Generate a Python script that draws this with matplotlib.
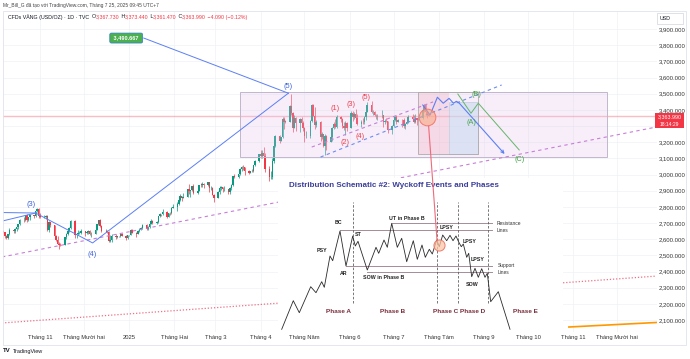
import matplotlib
matplotlib.use('Agg')
import matplotlib.pyplot as plt
import matplotlib.dates as mdates
from matplotlib.patches import Rectangle, ConnectionPatch
import numpy as np
import pandas as pd

plt.rcParams['font.family'] = ['Liberation Sans', 'DejaVu Sans']

# ---------------- DATA ----------------
first_open = 2653
closes = [
    2644, 2622, 2608, 2630, 2657, 2649, 2662, 2674, 2693, 2721, 2720, 2748, 2716, 2736, 2747, 2743, 2774, 2788, 2743,
    2736, 2736, 2742, 2659, 2706, 2685, 2618, 2598, 2572, 2565, 2563, 2611, 2631, 2650, 2670, 2715, 2625, 2633, 2638, 2640, 2650,
    2640, 2643, 2650, 2632, 2633, 2660, 2694, 2718, 2680, 2648, 2652, 2646, 2586, 2595, 2622, 2612, 2617, 2618, 2633, 2621, 2606, 2624,
    2625, 2658, 2640, 2635, 2648, 2662, 2670, 2690, 2663, 2677, 2696, 2715, 2703, 2708, 2745, 2755, 2754, 2770, 2740, 2763, 2760, 2794, 2798,
    2815, 2842, 2867, 2856, 2861, 2908, 2898, 2904, 2929, 2883, 2899, 2935, 2933, 2939, 2936, 2951, 2915, 2916, 2876, 2857,
    2893, 2918, 2920, 2910, 2910, 2889, 2916, 2934, 2988, 2984, 3001, 3035, 3048, 3044, 3023, 3010, 3020, 3019, 3057, 3085, 3124,
    3113, 3134, 3114, 3037, 2982, 2982, 3083, 3175, 3237, 3210, 3230, 3343, 3327, 3327, 3424, 3380, 3288, 3349, 3319, 3343, 3317, 3288,
    3239, 3241, 3334, 3431, 3365, 3306, 3326, 3235, 3248, 3178, 3240, 3204, 3230, 3290, 3314, 3295, 3358, 3342, 3301, 3288, 3317, 3289,
    3381, 3353, 3373, 3352, 3310, 3325, 3322, 3355, 3386, 3432, 3385, 3388, 3370, 3368, 3368, 3368, 3323, 3332, 3328, 3273, 3303,
    3338, 3357, 3326, 3337, 3336, 3302, 3313, 3325, 3355, 3344, 3325, 3347, 3339, 3350, 3397, 3432, 3387, 3367.73, 3363.99,
]
highs = [
    2660, 2645, 2627, 2635, 2669, 2660, 2667, 2676, 2697, 2722, 2740, 2749, 2758, 2739, 2750, 2749, 2775, 2790, 2790,
    2762, 2750, 2750, 2748, 2710, 2709, 2686, 2629, 2618, 2584, 2575, 2616, 2639, 2656, 2673, 2721, 2721, 2635, 2656, 2652, 2665,
    2652, 2650, 2657, 2655, 2645, 2668, 2696, 2721, 2726, 2685, 2664, 2654, 2650, 2625, 2632, 2630, 2620, 2620, 2638, 2640, 2626, 2626,
    2628, 2662, 2665, 2645, 2660, 2670, 2677, 2696, 2692, 2679, 2698, 2725, 2718, 2711, 2746, 2763, 2758, 2786, 2772, 2765, 2770, 2799, 2817,
    2830, 2845, 2882, 2869, 2886, 2911, 2942, 2907, 2932, 2942, 2905, 2937, 2947, 2954, 2950, 2956, 2953, 2928, 2923, 2880,
    2896, 2928, 2930, 2925, 2930, 2912, 2920, 2940, 2990, 3005, 3003, 3038, 3050, 3057, 3046, 3030, 3024, 3033, 3060, 3087, 3128,
    3149, 3149, 3168, 3136, 3055, 3023, 3100, 3176, 3245, 3246, 3230, 3358, 3357, 3335, 3430, 3500, 3386, 3367, 3353, 3351, 3353, 3328,
    3293, 3269, 3336, 3436, 3437, 3415, 3340, 3330, 3265, 3252, 3252, 3243, 3250, 3296, 3325, 3345, 3366, 3365, 3350, 3325, 3330, 3324,
    3392, 3392, 3385, 3403, 3375, 3337, 3348, 3360, 3397, 3446, 3452, 3400, 3394, 3376, 3374, 3398, 3368, 3342, 3350, 3330, 3308,
    3358, 3365, 3366, 3345, 3342, 3348, 3317, 3330, 3369, 3375, 3366, 3377, 3352, 3361, 3402, 3434, 3439, 3393, 3373.44,
]
lows = [
    2636, 2605, 2603, 2604, 2626, 2637, 2637, 2651, 2666, 2690, 2704, 2713, 2708, 2715, 2721, 2730, 2735, 2770, 2730,
    2733, 2732, 2724, 2652, 2643, 2678, 2610, 2589, 2569, 2537, 2555, 2562, 2604, 2626, 2643, 2662, 2606, 2605, 2623, 2633, 2635,
    2622, 2630, 2634, 2625, 2614, 2630, 2656, 2686, 2677, 2644, 2643, 2638, 2583, 2583, 2584, 2603, 2610, 2614, 2613, 2617, 2597, 2603,
    2620, 2623, 2636, 2614, 2631, 2643, 2656, 2666, 2656, 2660, 2671, 2692, 2697, 2697, 2703, 2740, 2742, 2752, 2731, 2738, 2751, 2754, 2790,
    2773, 2809, 2838, 2834, 2853, 2858, 2880, 2864, 2900, 2878, 2880, 2897, 2921, 2925, 2918, 2930, 2890, 2903, 2874, 2832,
    2855, 2880, 2905, 2893, 2896, 2880, 2881, 2905, 2930, 2976, 2980, 2999, 3022, 3030, 2999, 3001, 3007, 3013, 3015, 3055, 3076,
    3100, 3105, 3054, 3015, 2957, 2970, 2972, 3073, 3168, 3194, 3205, 3228, 3283, 3320, 3325, 3367, 3260, 3287, 3268, 3263, 3301, 3268,
    3202, 3223, 3225, 3323, 3360, 3282, 3297, 3207, 3222, 3171, 3121, 3154, 3200, 3205, 3284, 3287, 3287, 3324, 3285, 3278, 3245, 3271,
    3285, 3333, 3344, 3339, 3307, 3293, 3313, 3315, 3340, 3385, 3382, 3366, 3364, 3341, 3340, 3347, 3295, 3311, 3322, 3255, 3248,
    3297, 3329, 3311, 3323, 3296, 3287, 3282, 3311, 3321, 3340, 3320, 3320, 3309, 3332, 3343, 3384, 3382, 3351, 3361.47,
]
bar_dates = pd.bdate_range('2024-10-07', '2025-07-25')

price_ticks = list(range(2100, 4000, 100))
hidden_price_tick = 3300  # covered by the last-price tag in the reference
month_ticks = ['2024-11-01', '2024-12-01', '2025-01-01', '2025-02-01', '2025-03-01', '2025-04-01', '2025-05-01',
               '2025-06-01', '2025-07-01', '2025-08-01', '2025-09-01', '2025-10-01', '2025-11-01', '2025-12-01']
month_labels = ['Tháng 11', 'Tháng Mười hai', '2025', 'Tháng Hai', 'Tháng 3', 'Tháng 4', 'Tháng Năm',
                'Tháng 6', 'Tháng 7', 'Tháng Tám', 'Tháng 9', 'Tháng 10', 'Tháng 11', 'Tháng Mười hai']

last_price = 3363.99

# Elliott wave (blue)
wave_in_a_dates, wave_in_a_prices = ['2024-10-06', '2024-10-29'], [2765, 2762]
wave_in_b_dates, wave_in_b_prices = ['2024-10-06', '2024-10-29'], [2712, 2762]
wave_dates = ['2024-10-29', '2024-12-07', '2025-04-20']
wave_prices = [2762, 2577, 3503]
wave_labels = ['(3)', '(4)', '(5)']
wave_label_dates = ['2024-10-26', '2024-12-07', '2025-04-20']
wave_label_prices = [2812, 2508, 3543]

target_label = '3,490.667'
target_label_date, target_label_price = '2024-12-30', 3844
target_line_dates, target_line_prices = ['2025-01-11', '2025-04-20'], [3844, 3503]

# sub-waves (red)
sub_labels = ['(1)', '(2)', '(3)', '(4)', '(5)']
sub_label_dates = ['2025-05-22', '2025-05-29', '2025-06-02', '2025-06-08', '2025-06-12']
sub_label_prices = [3411, 3201, 3436, 3238, 3479]

# trend lines
long_dot_dates, long_dot_prices = ['2024-10-06', '2025-12-28'], [2490, 3294]
red_dot_dates, red_dot_prices = ['2024-10-06', '2025-12-28'], [2082, 2372]
orange_dates, orange_prices = ['2025-10-29', '2025-12-28'], [2057, 2085]
chan_up_dates, chan_up_prices = ['2025-05-06', '2025-07-28'], [3170, 3449]
chan_lo_dates, chan_lo_prices = ['2025-05-12', '2025-09-13'], [3108, 3554]

# range boxes
range_box_dates, range_box_prices = ['2025-03-18', '2025-11-24'], [3108, 3510]
zone_dates = ['2025-07-18', '2025-08-08', '2025-08-28']
zone_prices = [3127, 3510, 3449]

# projections
proj_blue_dates = ['2025-07-21', '2025-07-26', '2025-07-31', '2025-08-04', '2025-08-08',
                   '2025-08-11', '2025-08-13', '2025-08-15', '2025-09-15']
proj_blue_prices = [3430, 3368, 3478, 3441, 3471, 3441, 3453, 3441, 3127]
proj_green_dates = ['2025-08-14', '2025-08-23', '2025-08-28', '2025-09-25']
proj_green_prices = [3498, 3379, 3441, 3152]
abc_labels = ['(A)', '(B)', '(C)']
abc_dates = ['2025-08-23', '2025-08-27', '2025-09-25']
abc_prices = [3321, 3492, 3094]

circle_date, circle_price = '2025-07-24', 3358
link_date, link_price = '2025-07-25', 3300

# Wyckoff distribution schematic (inset picture units)
sch_x = [3.7, 15.3, 21.3, 32.7, 38, 43.7, 46.3, 52, 54.7, 62, 68, 74.7, 77.3, 80, 89.3, 98, 100.7, 106, 109.3,
         113.7, 119.3, 123.7, 128.7, 135.3, 139.3, 144, 147.3, 151.3, 154.3, 158.7, 161.3, 164.7, 168.7, 172,
         175, 178, 180.7, 183.3, 185.3, 188.7, 190.7, 193.7, 197, 200.3, 203.7, 207, 209.3, 212.7, 220.3, 232]
sch_y = [3.7, 32.3, 20.3, 46.3, 40.3, 51.3, 45.7, 77, 72.3, 102, 67, 97, 87, 91.7, 63, 85.7, 79.7, 93, 85.7,
         109.7, 85.7, 94.7, 71.3, 92.3, 73.7, 88, 75.7, 83.7, 79, 93, 86.3, 98, 92.3, 97.7,
         92.3, 97, 91, 86.3, 89, 75.7, 79.7, 56.3, 64.7, 55.7, 64.3, 55.7, 59.7, 31.3, 41.3, 3.7]
sch_levels_y = [109.7, 102.7, 67, 61.3]
sch_levels_x0 = [113.7, 62, 68, 88.7]
sch_levels_x1 = [213.7, 213.7, 213.7, 213.7]
sch_phase_x = [75.3, 158.7, 180.3, 210.3]
sch_phase_y = [29.7, 131.3]
sch_events = ['BC', 'PSY', 'ST', 'AR', 'SOW in Phase B', 'UT in Phase B', 'LPSY', 'LPSY', 'LPSY', 'SOW']
sch_events_x = [60.3, 43.7, 80.3, 66, 105.3, 128.7, 168.7, 192, 199.3, 193.7]
sch_events_y = [110.3, 83, 98.7, 59.7, 55.7, 114.7, 105.7, 91.3, 73.7, 48.7]
sch_phases = ['Phase A', 'Phase B', 'Phase C', 'Phase D', 'Phase E']
sch_phases_x = [60.3, 114.7, 168, 194.7, 247]
sch_phases_y = 21.3
sch_circle = (161.3, 88)
sch_link = (159, 93)
sch_title = 'Distribution Schematic #2: Wyckoff Events and Phases'

# ---------------- LAYOUT ----------------
W, H = 690, 359
fig = plt.figure(figsize=(W / 100, H / 100), dpi=100)
fig.patch.set_facecolor('white')


def fx(px):
    return px / W


def fy(py):
    return 1 - py / H


PANE_L, PANE_R, PANE_T, PANE_B = 3, 657, 11, 332
ax = fig.add_axes([fx(PANE_L), fy(PANE_B), (PANE_R - PANE_L) / W, (PANE_B - PANE_T) / H])
X_ORIGIN = mdates.date2num(pd.Timestamp('2024-11-01'))
PX_PER_DAY = 1.461
PX_PER_USD = 0.1617
ax.set_xlim(X_ORIGIN + (PANE_L - 40) / PX_PER_DAY, X_ORIGIN + (PANE_R - 40) / PX_PER_DAY)
ax.set_ylim(3900 - (PANE_B - 29) / PX_PER_USD, 3900 + (29 - PANE_T) / PX_PER_USD)


def dn(s):
    return mdates.date2num(pd.Timestamp(s))


def dns(lst):
    return [dn(s) for s in lst]


# grid / ticks
for s in ax.spines.values():
    s.set_visible(False)
ax.set_yticks(price_ticks)
ax.set_yticklabels(['' if v == hidden_price_tick else f'{v:,.3f}' for v in price_ticks])
ax.yaxis.tick_right()
ax.tick_params(axis='y', length=0, pad=1.0, labelsize=4.3, labelcolor='#333333')
ax.set_xticks(dns(month_ticks))
ax.set_xticklabels(month_labels)
ax.tick_params(axis='x', length=0, pad=2.0, labelsize=4.2, labelcolor='#333333')
ax.grid(True, color='#eff1f5', lw=0.5)
ax.set_axisbelow(True)

# candles
xb = mdates.date2num(bar_dates)
c = np.array(closes, dtype=float)
o = np.array([first_open] + closes[:-1], dtype=float)
hi = np.maximum(np.array(highs, dtype=float), np.maximum(o, c))
lo = np.minimum(np.array(lows, dtype=float), np.minimum(o, c))
up = c >= o
col = np.where(up, '#089981', '#f23645')
ax.vlines(xb, lo, hi, colors=col, lw=0.5, zorder=2)
ax.bar(xb, np.maximum(np.abs(c - o), 1.5), bottom=np.minimum(o, c), width=1.05, color=col, lw=0, zorder=2)

# last price line
ax.axhline(last_price, color='#f7a1aa', lw=1.0, alpha=0.7, zorder=1.5)

# range box
rx0, rx1 = dns(range_box_dates)
ax.add_patch(Rectangle((rx0, range_box_prices[0]), rx1 - rx0, range_box_prices[1] - range_box_prices[0],
                       facecolor='#e4c3ea', alpha=0.28, edgecolor='none', zorder=3))
ax.add_patch(Rectangle((rx0, range_box_prices[0]), rx1 - rx0, range_box_prices[1] - range_box_prices[0],
                       fill=False, edgecolor='#c2b6cc', lw=0.7, zorder=3))
zx = dns(zone_dates)
ax.add_patch(Rectangle((zx[0], zone_prices[0]), zx[1] - zx[0], zone_prices[1] - zone_prices[0],
                       facecolor='#f3b3c3', alpha=0.35, edgecolor='none', zorder=3))
ax.add_patch(Rectangle((zx[1], zone_prices[0]), zx[2] - zx[1], zone_prices[2] - zone_prices[0],
                       facecolor='#c6d9f0', alpha=0.55, edgecolor='#9fb3cc', lw=0.5, zorder=3))
ax.add_patch(Rectangle((zx[0], zone_prices[0]), zx[2] - zx[0], zone_prices[1] - zone_prices[0],
                       fill=False, edgecolor='#ababab', lw=0.6, zorder=3))

# trend lines
ax.plot(dns(long_dot_dates), long_dot_prices, color='#c77fd6', lw=0.8, ls=(0, (3, 3)), zorder=3)
ax.plot(dns(red_dot_dates), red_dot_prices, color='#ef6f86', lw=0.9, ls=(0, (1, 1.5)), zorder=3)
ax.plot(dns(orange_dates), orange_prices, color='#ff9800', lw=1.2, zorder=3)
ax.plot(dns(chan_up_dates), chan_up_prices, color='#c77fd6', lw=0.8, ls=(0, (3, 3)), zorder=4)
ax.plot(dns(chan_lo_dates), chan_lo_prices, color='#6d8cf0', lw=0.8, ls=(0, (3, 3)), zorder=4)

BLUE = '#5b7ff5'
ax.plot(dns(wave_in_a_dates), wave_in_a_prices, color=BLUE, lw=0.7, zorder=4)
ax.plot(dns(wave_in_b_dates), wave_in_b_prices, color=BLUE, lw=0.7, zorder=4)
ax.plot(dns(wave_dates), wave_prices, color=BLUE, lw=0.7, zorder=4)
for s, d, p in zip(wave_labels, wave_label_dates, wave_label_prices):
    ax.text(dn(d), p, s, color='#3f63e0', fontsize=5.4, ha='center', va='center', zorder=6)
ax.plot(dns(target_line_dates), target_line_prices, color=BLUE, lw=0.7, zorder=4)
ax.text(dn(target_label_date), target_label_price, ' ' + target_label + ' ', color='white', fontsize=4.0,
        fontweight='bold', ha='center', va='center', zorder=6,
        bbox=dict(boxstyle='round,pad=0.45,rounding_size=0.3', facecolor='#4caf50', edgecolor='#2f7fd0', lw=0.5))

for s, d, p in zip(sub_labels, sub_label_dates, sub_label_prices):
    ax.text(dn(d), p, s, color='#f04050', fontsize=5.2, ha='center', va='center', zorder=6)

# projections
pbx = dns(proj_blue_dates)
ax.plot(pbx[:-1], proj_blue_prices[:-1], color=BLUE, lw=0.8, zorder=5)
ax.annotate('', xy=(pbx[-1], proj_blue_prices[-1]), xytext=(pbx[-2], proj_blue_prices[-2]),
            arrowprops=dict(arrowstyle='->', color=BLUE, lw=0.8, mutation_scale=5, shrinkA=0, shrinkB=0), zorder=5)
ax.plot(dns(proj_green_dates), proj_green_prices, color='#66b56a', lw=0.7, zorder=5)
for s, d, p in zip(abc_labels, abc_dates, abc_prices):
    ax.text(dn(d), p, s, color='#43a047', fontsize=5.2, ha='center', va='center', zorder=6)

ax.plot(dn(circle_date), circle_price, 'o', ms=12, mfc=(0.98, 0.66, 0.5, 0.55), mec='#f27a6c', mew=0.7, zorder=6)

# ---------------- INSET SCHEMATIC ----------------
ax_in = fig.add_axes([fx(278), fy(333), 285 / W, 155 / H], zorder=2)
ax_in.set_facecolor('white')
ax_in.set_xlim(0, 285)
ax_in.set_ylim(0, 155)
ax_in.set_xticks([])
ax_in.set_yticks([])
for s in ax_in.spines.values():
    s.set_visible(False)
for y, a0, a1 in zip(sch_levels_y, sch_levels_x0, sch_levels_x1):
    ax_in.plot([a0, a1], [y, y], color='#a48c98', lw=0.7)
for xv in sch_phase_x:
    ax_in.plot([xv, xv], sch_phase_y, color='#606060', lw=0.6, ls=(0, (3, 2)))
ax_in.plot(sch_x, sch_y, color='#2a2a2a', lw=0.6)
ax_in.plot(*sch_circle, 'o', ms=8, mfc=(0.99, 0.78, 0.65, 0.75), mec='#f07a6e', mew=0.7)
for s, a, b in zip(sch_events, sch_events_x, sch_events_y):
    ax_in.text(a, b, s, fontsize=3.8, fontweight='bold', color='#222222', ha='center', va='center')
ax_in.text(218.7, 109.7, 'Resistance', fontsize=3.5, color='#333333', ha='left', va='center')
ax_in.text(218.7, 102.3, 'Lines', fontsize=3.5, color='#333333', ha='left', va='center')
ax_in.text(219.7, 67, 'Support', fontsize=3.5, color='#333333', ha='left', va='center')
ax_in.text(219.7, 60.3, 'Lines', fontsize=3.5, color='#333333', ha='left', va='center')
for s, a in zip(sch_phases, sch_phases_x):
    ax_in.text(a, sch_phases_y, s, fontsize=4.6, fontweight='bold', color='#7a2c3c', ha='center', va='center')
ax_in.text(11, 148, sch_title, fontsize=5.8, fontweight='bold', color='#3b3f9a', ha='left', va='center')

con = ConnectionPatch(xyA=(dn(link_date), link_price), coordsA=ax.transData,
                      xyB=sch_link, coordsB=ax_in.transData, color='#f06a7a', lw=0.8, zorder=6)
fig.add_artist(con)

# ---------------- FRAME / HEADER ----------------
fig.add_artist(Rectangle((fx(3), fy(345)), (686 - 3) / W, (345 - 11) / H, transform=fig.transFigure,
                         fill=False, edgecolor='#e0e3eb', lw=0.6, zorder=1))

fig.text(fx(3), fy(5), 'Mr_Bill_G đã tạo với TradingView.com, Tháng 7 25, 2025 09:45 UTC+7',
         fontsize=3.5, color='#444444', ha='left', va='center')

renderer = fig.canvas.get_renderer()
legend_parts = [('CFDs VÀNG (USD/OZ) · 1D · TVC', '#131722'), ('  O', '#131722'), ('3,367.730', '#f23645'),
                (' H', '#131722'), ('3,373.440', '#f23645'), (' L', '#131722'), ('3,361.470', '#f23645'),
                (' C', '#131722'), ('3,363.990', '#f23645'), (' −4.090 (−0.12%)', '#f23645')]
xp = 8.0
for s, colr in legend_parts:
    t = fig.text(fx(xp), fy(17), s, fontsize=3.75, color=colr, ha='left', va='center')
    xp += t.get_window_extent(renderer).width

# USD box
fig.add_artist(Rectangle((fx(657), fy(24)), 26 / W, 11 / H, transform=fig.transFigure,
                         facecolor='white', edgecolor='#d1d4dc', lw=0.5, zorder=4))
fig.text(fx(660), fy(18.5), 'USD', fontsize=3.8, color='#131722', ha='left', va='center', zorder=5)

# last price tag
fig.add_artist(Rectangle((fx(655), fy(128)), 29 / W, 15 / H, transform=fig.transFigure,
                         facecolor='#f23645', edgecolor='none', zorder=4))
fig.text(fx(669.5), fy(116.6), '3,363.990', fontsize=3.9, color='white', ha='center', va='center', zorder=5)
fig.text(fx(669.5), fy(124.0), '18:14:29', fontsize=3.6, color='white', ha='center', va='center', zorder=5)

# TradingView logo
fig.text(fx(3), fy(351), 'TV', fontsize=4.4, fontweight='bold', color='#131722', ha='left', va='center')
fig.text(fx(12.5), fy(351), 'TradingView', fontsize=4.0, color='#131722', ha='left', va='center')

fig.savefig('out.png', dpi=100, facecolor='white')
